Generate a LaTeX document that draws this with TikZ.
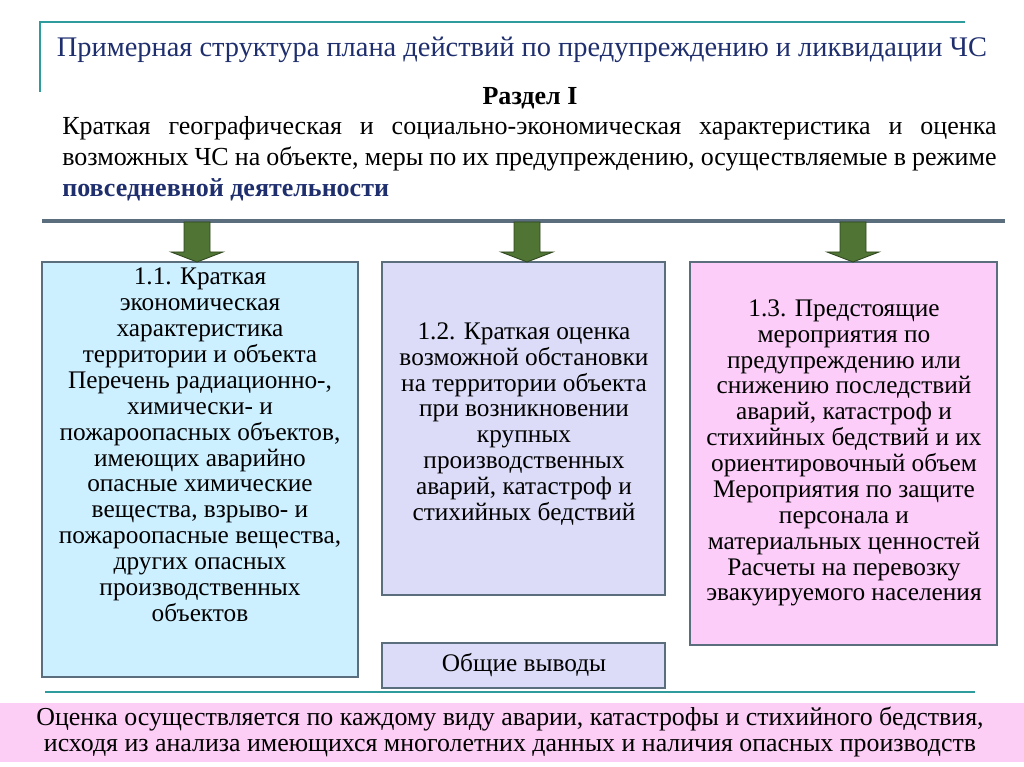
\documentclass[tikz,border=0pt]{standalone}
\usepackage{fontspec}
\setmainfont{Liberation Serif}
\usetikzlibrary{positioning}
\definecolor{navy}{HTML}{1F2F6E}
\definecolor{rule}{HTML}{5A6E7E}
\definecolor{tealine}{HTML}{2E9C9C}
\definecolor{arrgreen}{HTML}{4F7434}
\definecolor{cyanbox}{HTML}{CCF0FF}
\definecolor{lavbox}{HTML}{DCDCF8}
\definecolor{pinkbox}{HTML}{FBCDF8}
\definecolor{bandpink}{HTML}{FCCDF5}
\begin{document}
\begin{tikzpicture}[x=0.025cm, y=-0.025cm,
  every node/.style={inner sep=0pt},
  boxtext/.style={align=center, font=\fontsize{18}{18.4}\selectfont},
  panel/.style={draw=rule, line width=1.2pt}]
\useasboundingbox (0,0) rectangle (1024,767);

% frame lines
\draw[tealine, line width=1pt] (40,92) -- (40,22) -- (965,22);
\draw[rule, line width=2.5pt] (42,221) -- (1005,221);
\draw[tealine, line width=1pt] (45,692) -- (975,692);

% heading
\node[navy, font=\fontsize{20.2}{22}\selectfont] (title) at (522,50) {Примерная структура плана действий по предупреждению и ликвидации ЧС};
\node[font=\fontsize{18.5}{20}\selectfont\bfseries] (part) at (530,98) {Раздел I};
\node[anchor=north west, text width=23.35cm, align=justify, font=\fontsize{18.5}{22}\selectfont] (intro) at (62,116)
 {Краткая географическая и социально-экономическая характеристика и оценка возможных ЧС на объекте, меры по их предупреждению, осуществляемые в режиме \textcolor{navy}{\bfseries повседневной деятельности}};

% boxes
\filldraw[panel, fill=cyanbox] (42,262) rectangle (358,677);
\filldraw[panel, fill=lavbox] (382,262) rectangle (665,595);
\filldraw[panel, fill=pinkbox] (690,262) rectangle (997,645);
\filldraw[panel, fill=lavbox] (382,643) rectangle (665,688);

\node[boxtext, anchor=north] (b1) at (200,268) {1.1. Краткая\\экономическая\\характеристика\\территории и объекта\\Перечень радиационно-,\\химически- и\\пожароопасных объектов,\\имеющих аварийно\\опасные химические\\вещества, взрыво- и\\пожароопасные вещества,\\других опасных\\производственных\\объектов};
\node[boxtext] (b2) at (524,424) {1.2. Краткая оценка\\возможной обстановки\\на территории объекта\\при возникновении\\крупных\\производственных\\аварий, катастроф и\\стихийных бедствий};
\node[boxtext] (b3) at (844,453) {1.3. Предстоящие\\мероприятия по\\предупреждению или\\снижению последствий\\аварий, катастроф и\\стихийных бедствий и их\\ориентировочный объем\\Мероприятия по защите\\персонала и\\материальных ценностей\\Расчеты на перевозку\\эвакуируемого населения};
\node[boxtext] (sum) at (524,665) {Общие выводы};

% arrows
\foreach \cx in {197,527,853}
  \filldraw[draw=arrgreen!60!black, fill=arrgreen, line width=0.6pt]
    (\cx-13,222) -- (\cx+13,222) -- (\cx+13,252) -- (\cx+26,252) -- (\cx,262)
    -- (\cx-26,252) -- (\cx-13,252) -- cycle;

% bottom band
\fill[bandpink] (0,703) rectangle (1024,762);
\node[align=center, font=\fontsize{18.4}{18}\selectfont] (note) at (510,732)
 {Оценка осуществляется по каждому виду аварии, катастрофы и стихийного бедствия,\\исходя из анализа имеющихся многолетних данных и наличия опасных производств};
\end{tikzpicture}
\end{document}
